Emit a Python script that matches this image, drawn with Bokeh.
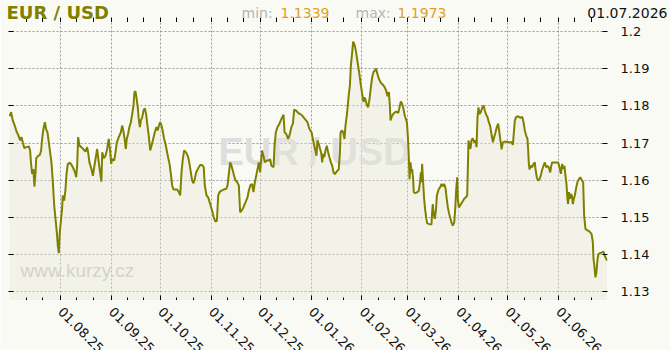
import pandas as pd
from bokeh.plotting import figure
from bokeh.layouts import column
from bokeh.models import (Range1d, FixedTicker, LinearAxis, Label, LabelSet,
                          ColumnDataSource, CustomJSTickFormatter)
from bokeh.core.properties import value
from bokeh.embed import file_html
from bokeh.resources import INLINE

# ---- data -------------------------------------------------------------
start_date = "2025-07-01"
end_date = "2026-07-01"
title_text = "EUR / USD"
site_text = "www.kurzy.cz"

days = [0, 0.9, 1.9, 3.1, 4.2, 5.2, 6.4, 7.2, 8.0, 9.0, 10.1, 11.7, 12.5, 12.9, 13.7, 14.5, 15.1, 15.8,
        16.2, 17.2, 18.4, 19.2, 19.8, 20.6, 21.5, 22.3, 23.1, 23.9, 24.7, 25.5, 26.3, 27.2, 28.0, 28.8,
        29.4, 30.0, 30.6, 31.2, 32.0, 32.4, 33.3, 34.1, 34.7, 35.5, 36.9, 38.1, 39.2, 40.2, 40.6, 41.2,
        41.8, 42.6, 43.8, 45.3, 46.3, 47.3, 47.9, 48.7, 49.9, 50.8, 51.6, 52.4, 53.4, 54.4, 55.2, 56.0,
        56.5, 57.5, 58.5, 59.5, 60.5,
        61.3, 62.0, 62.6, 63.8, 64.6, 65.4, 66.6, 67.9, 68.7, 69.5, 70.3, 70.9, 71.5, 72.3, 73.1, 74.0,
        74.8, 75.6, 76.2, 76.8, 77.4, 78.2, 78.8, 79.5, 80.1, 80.9, 81.7, 82.5, 83.3, 84.1, 84.9, 85.8,
        86.6, 87.4, 88.6, 89.6, 90.4, 91.1, 91.9, 92.7, 93.5, 94.3, 95.1, 95.9, 96.7, 97.6, 98.4, 99.2,
        100.0, 102.2, 103.3, 104.1, 104.9, 105.7, 106.5, 107.7, 109.0, 109.8, 110.6, 111.4, 112.2, 113.0,
        113.8, 115.1, 116.3, 117.5, 118.5, 119.1,
        120.2, 121.2, 122.4, 123.6, 124.6, 125.6, 126.5, 127.3, 128.1, 129.3, 130.7, 132.2, 133.0, 133.8,
        134.6, 135.4, 136.2, 137.0, 137.9, 138.9, 139.9, 140.7, 141.5, 142.7, 144.0, 145.2, 146.0, 147.0,
        148.0, 148.8, 149.7, 150.5, 151.3, 152.1, 152.9, 153.5, 154.1, 154.9, 155.8, 157.0, 158.2, 159.0,
        159.8, 161.1, 161.7, 162.5, 163.5, 164.7, 165.9, 167.2, 167.8, 168.8, 170.0, 170.8, 172.0, 172.9,
        173.7, 174.9, 176.1, 177.3, 178.6, 179.8,
        181.8, 183.0, 184.3, 185.1, 185.9, 186.7, 187.3, 187.9, 188.7, 189.5, 190.2, 190.8, 191.4, 192.0,
        192.8, 193.6, 194.4, 195.2, 196.1, 196.9, 197.7, 198.5, 199.3, 200.1, 200.9, 201.6, 202.0, 203.0,
        203.8, 204.4, 205.0, 205.8, 206.4, 207.0, 207.7, 208.3, 209.1, 209.7, 210.3, 210.9, 211.5, 212.1,
        212.7, 213.6, 214.4, 215.2, 216.0, 216.6, 217.2, 218.0, 218.8, 219.7, 220.5, 221.3, 222.1, 222.9,
        223.7, 224.5, 225.4, 226.6, 227.8, 229.0, 229.8, 230.7, 231.5, 232.1, 232.5, 233.5, 234.7, 235.9,
        237.2, 238.0, 238.8, 239.6, 240.4, 241.2,
        242.5, 243.1, 243.7, 244.1, 244.7, 245.3, 245.7, 246.3, 246.7, 247.7, 248.8, 249.8, 250.4, 251.0,
        251.4, 251.8, 252.4, 253.0, 253.6, 254.3, 254.9, 256.3, 257.5, 257.9, 258.3, 258.9, 259.5, 260.2,
        260.8, 261.4, 262.0, 262.8, 263.6, 264.4, 265.2, 266.1, 266.7, 267.5, 268.1, 268.9, 269.7, 270.5,
        271.4, 272.0, 272.6, 273.2, 273.6, 274.2, 275.0, 276.2, 277.5, 278.5, 279.3, 279.7, 280.1, 280.7,
        281.3, 281.9, 282.7, 283.6, 284.4, 285.0, 285.6, 286.2, 286.8, 287.6, 288.4, 289.3, 290.1, 290.9,
        291.7, 292.5, 293.3, 294.1, 295.0, 295.8, 296.6, 297.4, 298.2, 298.8, 299.6, 300.3, 301.1, 302.3,
        304.7, 306.4, 307.2, 307.8, 308.4, 309.2, 310.4, 311.6, 312.9, 313.7, 314.5, 315.3, 316.1, 316.5,
        316.9, 317.3, 318.2, 319.0, 319.8, 320.6, 321.0, 321.8, 322.6, 323.4, 324.3, 325.1, 325.9, 326.7,
        327.5, 328.3, 329.1, 330.0, 330.6, 331.2, 334.8, 335.7, 336.5, 337.3, 338.1, 338.7, 339.3, 339.9,
        340.5, 340.9, 341.4, 342.0, 342.6, 343.2, 343.8, 344.4, 345.0, 345.8, 346.6, 347.5, 348.3, 349.1,
        350.1, 350.7, 351.5, 352.8, 354.0, 355.2, 356.0, 356.4, 356.8, 357.2, 357.6, 358.2, 358.9, 359.5,
        360.5, 361.7, 362.5, 363.3, 364.1, 364.8]

rate = [1.1772, 1.1783, 1.1761, 1.1747, 1.1731, 1.1722, 1.1707, 1.1716, 1.1702, 1.1686, 1.1689, 1.1691,
        1.1680, 1.1653, 1.1617, 1.1630, 1.1583, 1.1621, 1.1659, 1.1665, 1.1668, 1.1680, 1.1711, 1.1738,
        1.1756, 1.1736, 1.1729, 1.1702, 1.1675, 1.1648, 1.1599, 1.1532, 1.1496, 1.1460, 1.1424, 1.1404,
        1.1460, 1.1487, 1.1523, 1.1559, 1.1545, 1.1577, 1.1617, 1.1644, 1.1647, 1.1639, 1.1629, 1.1617,
        1.1608, 1.1639, 1.1716, 1.1693, 1.1689, 1.1682, 1.1677, 1.1689, 1.1675, 1.1648, 1.1630, 1.1612,
        1.1635, 1.1657, 1.1684, 1.1648, 1.1621, 1.1596, 1.1675, 1.1659, 1.1666, 1.1684, 1.1711,
        1.1680, 1.1644, 1.1657, 1.1653, 1.1675, 1.1702, 1.1716, 1.1729, 1.1747, 1.1731, 1.1707, 1.1684,
        1.1711, 1.1725, 1.1743, 1.1756, 1.1778, 1.1801, 1.1837, 1.1839, 1.1823, 1.1796, 1.1765, 1.1743,
        1.1761, 1.1769, 1.1787, 1.1794, 1.1778, 1.1747, 1.1720, 1.1680, 1.1693, 1.1707, 1.1729, 1.1743,
        1.1734, 1.1747, 1.1756, 1.1747, 1.1731, 1.1711, 1.1698, 1.1680, 1.1662, 1.1644, 1.1617, 1.1586,
        1.1575, 1.1575, 1.1568, 1.1559, 1.1621, 1.1657, 1.1680, 1.1675, 1.1662, 1.1644, 1.1621, 1.1599,
        1.1592, 1.1603, 1.1621, 1.1632, 1.1641, 1.1641, 1.1635, 1.1586,
        1.1559, 1.1554, 1.1536, 1.1518, 1.1500, 1.1489, 1.1491, 1.1559, 1.1568, 1.1572, 1.1575, 1.1577,
        1.1586, 1.1617, 1.1648, 1.1639, 1.1626, 1.1612, 1.1599, 1.1595, 1.1586, 1.1514, 1.1518, 1.1527,
        1.1541, 1.1554, 1.1572, 1.1587, 1.1590, 1.1568, 1.1595, 1.1612, 1.1630, 1.1648, 1.1621, 1.1653,
        1.1680, 1.1666, 1.1648, 1.1653, 1.1653, 1.1657, 1.1639, 1.1635, 1.1693, 1.1729, 1.1743, 1.1752,
        1.1765, 1.1776, 1.1729, 1.1725, 1.1711, 1.1720, 1.1743, 1.1752, 1.1790, 1.1787, 1.1781, 1.1778,
        1.1774, 1.1767,
        1.1756, 1.1738, 1.1729, 1.1711, 1.1693, 1.1680, 1.1666, 1.1707, 1.1698, 1.1684, 1.1673, 1.1648,
        1.1671, 1.1662, 1.1680, 1.1693, 1.1675, 1.1662, 1.1648, 1.1639, 1.1621, 1.1616, 1.1621, 1.1626,
        1.1629, 1.1675, 1.1729, 1.1734, 1.1725, 1.1711, 1.1747, 1.1774, 1.1801, 1.1828, 1.1855, 1.1909,
        1.1944, 1.1973, 1.1967, 1.1958, 1.1944, 1.1926, 1.1909, 1.1882, 1.1855, 1.1832, 1.1810, 1.1823,
        1.1817, 1.1803, 1.1796, 1.1819, 1.1850, 1.1877, 1.1891, 1.1895, 1.1900, 1.1886, 1.1873, 1.1862,
        1.1857, 1.1850, 1.1841, 1.1826, 1.1837, 1.1801, 1.1761, 1.1774, 1.1781, 1.1785, 1.1781, 1.1796,
        1.1812, 1.1805, 1.1792, 1.1774,
        1.1756, 1.1716, 1.1657, 1.1603, 1.1648, 1.1621, 1.1630, 1.1603, 1.1568, 1.1565, 1.1568, 1.1572,
        1.1590, 1.1621, 1.1595, 1.1644, 1.1595, 1.1550, 1.1523, 1.1498, 1.1484, 1.1482, 1.1481, 1.1514,
        1.1536, 1.1509, 1.1496, 1.1518, 1.1559, 1.1568, 1.1577, 1.1581, 1.1590, 1.1584, 1.1590, 1.1579,
        1.1554, 1.1527, 1.1514, 1.1500, 1.1487, 1.1478, 1.1487, 1.1523, 1.1577, 1.1608, 1.1550, 1.1527,
        1.1532, 1.1541, 1.1550, 1.1554, 1.1559, 1.1630, 1.1707, 1.1693, 1.1684, 1.1707, 1.1713, 1.1702,
        1.1707, 1.1689, 1.1770, 1.1796, 1.1778, 1.1783, 1.1794, 1.1801, 1.1787, 1.1776, 1.1770, 1.1756,
        1.1747, 1.1725, 1.1702, 1.1716, 1.1729, 1.1743, 1.1752, 1.1734, 1.1707, 1.1683, 1.1702, 1.1704,
        1.1702, 1.1702, 1.1695, 1.1729, 1.1761, 1.1770, 1.1772, 1.1768, 1.1770, 1.1756, 1.1734, 1.1720,
        1.1711, 1.1684, 1.1648, 1.1629, 1.1639, 1.1635, 1.1644, 1.1648, 1.1630, 1.1608, 1.1599, 1.1602,
        1.1614, 1.1629, 1.1639, 1.1648, 1.1635, 1.1638, 1.1635, 1.1621, 1.1639, 1.1648, 1.1648, 1.1635,
        1.1617, 1.1644, 1.1630, 1.1639, 1.1612, 1.1590, 1.1550, 1.1536, 1.1568, 1.1550, 1.1563, 1.1559,
        1.1536, 1.1550, 1.1559, 1.1579, 1.1595, 1.1603, 1.1608, 1.1602, 1.1595, 1.1505, 1.1469, 1.1465,
        1.1462, 1.1456, 1.1434, 1.1389, 1.1375, 1.1357, 1.1339, 1.1352, 1.1389, 1.1402, 1.1404, 1.1406,
        1.1408, 1.1397, 1.1389, 1.1384]

y_ticks = [1.13, 1.14, 1.15, 1.16, 1.17, 1.18, 1.19, 1.20]
month_starts = ["2025-08-01", "2025-09-01", "2025-10-01", "2025-11-01", "2025-12-01", "2026-01-01",
                "2026-02-01", "2026-03-01", "2026-04-01", "2026-05-01", "2026-06-01"]

# ---- derived ----------------------------------------------------------
t0 = pd.Timestamp(start_date)
t1 = pd.Timestamp(end_date)
dates = t0 + pd.to_timedelta(days, unit="D")
v_min, v_max = min(rate), max(rate)

def to_ms(ts):
    return pd.Timestamp(ts).value // 10**6

major_ms = [to_ms(m) for m in month_starts]
minor_ms = []
for m in pd.date_range(start_date, "2026-06-01", freq="MS"):
    minor_ms += [to_ms(m + pd.Timedelta(days=10)), to_ms(m + pd.Timedelta(days=20))]
xticker = FixedTicker(ticks=major_ms, minor_ticks=minor_ms)
yticker = FixedTicker(ticks=y_ticks)

W, H = 670, 350
HEAD, FOOT = 22, 50
LEFT, RIGHT = 8, 63
BG = "#fafaf5"
OLIVE = "#808000"
FONT = "DejaVu Sans"

xs = t0 - pd.Timedelta(hours=17)
xe = t1 - pd.Timedelta(hours=1)
per_px = (xe - xs) / (W - LEFT - RIGHT)
x_main = Range1d(xs, xe)
x_full = Range1d(xs - LEFT * per_px, xe + RIGHT * per_px)


def bare(fig):
    fig.background_fill_color = BG
    fig.border_fill_color = BG
    fig.outline_line_color = None
    fig.grid.visible = False
    return fig


# ---- header -------------------------------------------------------------
head = bare(figure(width=W, height=HEAD, x_axis_type="datetime", y_axis_location=None,
                   x_range=x_full, y_range=Range1d(0, HEAD), output_backend="svg",
                   toolbar_location=None, min_border=0, frame_align=False))
hx = head.below[0]
hx.ticker = xticker
hx.axis_line_color = None
hx.major_tick_in = 5
hx.major_tick_out = 0
hx.minor_tick_in = 5
hx.minor_tick_out = 0
hx.major_tick_line_color = "#000000"
hx.minor_tick_line_color = "#000000"
hx.major_label_text_color = None
hx.major_label_text_font_size = "1px"
hx.major_label_standoff = 0

def head_label(x, text, color, size="14px", style="normal", align="left", mid=9.8):
    head.add_layout(Label(x=x, y=mid, x_units="screen", y_units="screen", text=text,
                          text_font=FONT, text_font_size=size, text_font_style=style,
                          text_color=color, text_align=align, text_baseline="middle"))

head_label(6, title_text, OLIVE, size="18px", style="bold", mid=10.2)
head_label(241, "min:", "#b5b5b5")
head_label(280, f"{v_min:.4f}", "#dfa21f")
head_label(355, "max:", "#b5b5b5")
head_label(397, f"{v_max:.4f}", "#dfa21f")
head_label(667, t1.strftime("%d.%m.%Y"), "#111111", align="right")

# ---- main plot ----------------------------------------------------------
p = figure(width=W, height=H - HEAD - FOOT, x_axis_type="datetime", y_axis_location="right",
           output_backend="svg", toolbar_location=None, x_range=x_main,
           y_range=Range1d(1.12766, 1.20242), frame_align=False,
           min_border_left=LEFT, min_border_right=RIGHT, min_border_top=0, min_border_bottom=0)
p.background_fill_color = BG
p.border_fill_color = BG
p.outline_line_color = None

for g in (p.xgrid, p.ygrid):
    g.grid_line_color = "#9a9a9a"
    g.grid_line_dash = "2 2"
    g.grid_line_width = 1
p.xgrid.ticker = xticker
p.ygrid.ticker = yticker

bx = p.below[0]
bx.ticker = xticker
bx.axis_line_color = None
bx.major_tick_in = 5
bx.major_tick_out = 0
bx.minor_tick_in = 3
bx.minor_tick_out = 0
bx.major_tick_line_color = "#000000"
bx.minor_tick_line_color = "#000000"
bx.major_label_text_color = None
bx.major_label_text_font_size = "1px"
bx.major_label_standoff = 0

ry = p.right[0]
ry.ticker = yticker
ry.axis_line_color = None
ry.major_tick_in = 5
ry.major_tick_out = 0
ry.minor_tick_line_color = None
ry.major_tick_line_color = "#000000"
ry.major_label_standoff = 13
ry.major_label_text_font = FONT
ry.major_label_text_font_size = "13px"
ry.major_label_text_color = "#111111"
ry.formatter = CustomJSTickFormatter(code="return String(Math.round(tick*100)/100);")

ly = LinearAxis(ticker=yticker, axis_line_color=None, major_tick_in=5, major_tick_out=0,
                minor_tick_line_color=None, major_tick_line_color="#000000",
                major_label_text_color=None, major_label_text_font_size="1px",
                major_label_standoff=0)
p.add_layout(ly, "left")

p.add_layout(Label(x=210, y=149, x_units="screen", y_units="screen", text=title_text,
                   text_font="Liberation Sans", text_font_style="bold",
                   text_font_size="38px", text_color="#dedede", text_baseline="middle",
                   level="underlay"))
p.add_layout(Label(x=12, y=30, x_units="screen", y_units="screen", text=site_text,
                   text_font="Liberation Sans", text_font_size="19px", text_color="#c6c6c6",
                   text_baseline="middle", level="underlay"))

p.varea(x=dates, y1=1.12, y2=rate, fill_color="#e6e6d6", fill_alpha=0.4)
p.line(x=dates, y=rate, line_color=OLIVE, line_width=2)

# ---- footer with month labels -------------------------------------------
foot = bare(figure(width=W, height=FOOT, x_axis_location=None, y_axis_location=None,
                   x_range=x_full, y_range=Range1d(0, FOOT), output_backend="svg",
                   toolbar_location=None, min_border=0, frame_align=False))
msrc = ColumnDataSource(dict(x=pd.to_datetime(month_starts),
                             text=[pd.Timestamp(m).strftime("%d.%m.%y") for m in month_starts]))
foot.add_layout(LabelSet(source=msrc, x="x", y=FOOT - 9, y_units="screen", text="text",
                         angle=-45, angle_units="deg", text_align="left",
                         text_baseline="middle", text_font=value(FONT),
                         text_font_size=value("13px"), text_color="#111111"))

layout = column(head, p, foot, spacing=0)
open("out.html", "w").write(file_html(layout, INLINE))
